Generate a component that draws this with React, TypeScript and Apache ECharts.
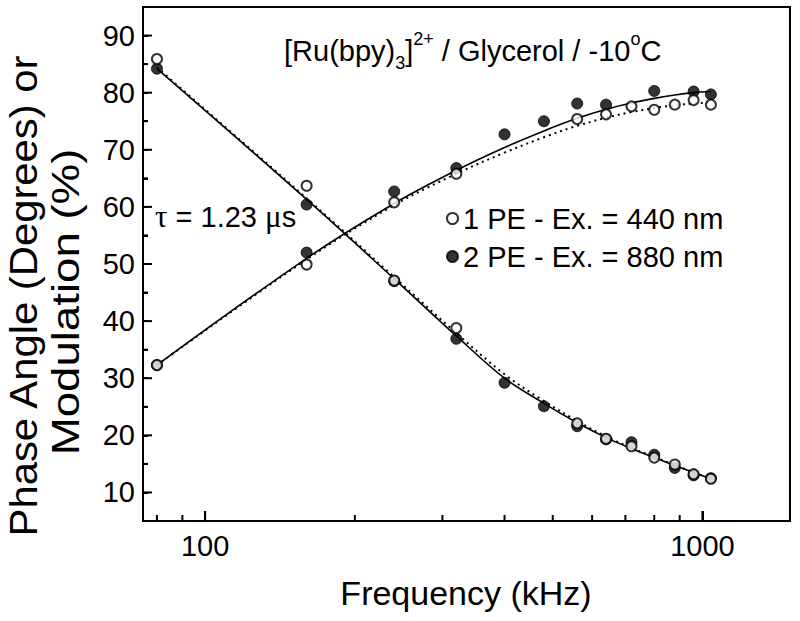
import React, { useEffect, useRef } from 'react';
import * as echarts from 'echarts';

// ---- data ----
const frequencies = [80, 160, 240, 320, 400, 480, 560, 640, 720, 800, 880, 960, 1040];

// measured points
const phase1PE = [32.3, 49.9, 60.8, 65.8, null, null, 75.4, 76.2, 77.6, 77.0, 77.9, 78.7, 77.9];
const phase2PE = [32.3, 52.0, 62.7, 66.8, 72.7, 75.0, 78.1, 77.9, null, 80.3, null, 80.2, 79.7];
const mod1PE = [85.9, 63.7, 47.1, 38.8, null, null, 22.1, 19.4, 18.1, 16.1, 14.9, 13.2, 12.4];
const mod2PE = [84.2, 60.4, 47.0, 36.9, 29.2, 25.1, 21.6, 19.3, 18.8, 16.6, 14.3, 13.0, 12.5];

// fitted curves
const phaseFit2PE = [32.3, 51.0, 60.6, 66.4, 70.4, 73.3, 75.5, 77.1, 78.2, 79.0, 79.6, 80.0, 80.2];
const phaseFit1PE = [32.3, 50.8, 60.3, 65.8, 69.5, 72.2, 74.2, 75.6, 76.6, 77.3, 77.8, 78.1, 78.3];
const modFit2PE = [84.2, 61.3, 47.4, 37.4, 30.0, 25.6, 22.2, 19.6, 17.7, 16.1, 14.7, 13.5, 12.4];
const modFit1PE = [84.4, 61.5, 47.7, 37.9, 30.7, 26.0, 22.5, 19.8, 17.8, 16.2, 14.8, 13.5, 12.4];

// axes
const X_MIN = 75;
const X_MAX = 1500;
const Y_MIN = 5;
const Y_MAX = 95;
const xTickLabels = [100, 1000];
const xTicksMajor = [100, 1000];
const xTicksMinor = [80, 90, 200, 300, 400, 500, 600, 700, 800, 900];
const yTickLabels = [10, 20, 30, 40, 50, 60, 70, 80, 90];
const yTicksMajor = [10, 20, 30, 40, 50, 60, 70, 80, 90];
const yTicksMinor = [15, 25, 35, 45, 55, 65, 75, 85];

const NAME_1PE = '1 PE - Ex. = 440 nm';
const NAME_2PE = '2 PE - Ex. = 880 nm';

const FONT = '"Liberation Sans", Arial, Helvetica, sans-serif';

// layout of the plotting rectangle
const GRID = { left: 143, right: 10, top: 7, bottom: 100 };
const W = 800;
const H = 621;

const zip = (xs: number[], ys: (number | null)[]) =>
  xs.map((x, i) => [x, ys[i]]).filter((p) => p[1] !== null && p[1] !== undefined);

const lineSeries = (ys: number[], dotted: boolean) => ({
  type: 'line',
  data: zip(frequencies, ys),
  smooth: 0.35,
  showSymbol: false,
  silent: true,
  z: 2,
  lineStyle: { color: '#000', width: dotted ? 2 : 1.6, type: dotted ? [2, 4] : 'solid' },
});

const labelStyle = { color: '#000', fontSize: 29, fontFamily: FONT };

export default function App() {
  const ref = useRef<HTMLDivElement>(null);

  useEffect(() => {
    if (!ref.current) return;
    const chart = echarts.init(ref.current, undefined, { renderer: 'svg' });

    const openStyle = { color: '#fff', borderColor: '#000', borderWidth: 2 };
    const filledStyle = { color: '#000', borderColor: '#000', borderWidth: 1 };

    const texts: any[] = [
      {
        type: 'text',
        id: 'title',
        left: 284,
        top: 30,
        silent: true,
        style: {
          text: '{a|[Ru(bpy)}{sub|3}{a|]}{sup|2+}{a| / Glycerol / -10}{sup|o}{a|C}',
          fill: '#000',
          rich: {
            a: { fontSize: 29, fontFamily: FONT, lineHeight: 42, fill: '#000' },
            sub: { fontSize: 18, fontFamily: FONT, lineHeight: 21, verticalAlign: 'bottom', fill: '#000' },
            sup: { fontSize: 18, fontFamily: FONT, lineHeight: 21, verticalAlign: 'top', fill: '#000' },
          },
        },
      },
      {
        type: 'text',
        id: 'tau',
        left: 155,
        top: 201,
        silent: true,
        style: {
          text: '{t|τ}{a| = 1.23 }{t|μ}{a|s}',
          fill: '#000',
          rich: {
            a: { fontSize: 29, fontFamily: FONT, lineHeight: 33, fill: '#000' },
            t: { fontSize: 31, fontFamily: '"Liberation Serif", "DejaVu Serif", serif', lineHeight: 33, fill: '#000' },
          },
        },
      },
      {
        type: 'text',
        id: 'xname',
        x: 466,
        y: 593,
        silent: true,
        style: {
          text: 'Frequency (kHz)',
          fontSize: 34,
          fontFamily: FONT,
          fill: '#000',
          align: 'center',
          verticalAlign: 'middle',
        },
      },
      {
        type: 'text',
        id: 'yname1',
        x: 24,
        y: 296,
        rotation: Math.PI / 2,
        scaleX: 1.1,
        silent: true,
        style: {
          text: 'Phase Angle (Degrees) or',
          fontSize: 38,
          fontFamily: FONT,
          fill: '#000',
          align: 'center',
          verticalAlign: 'middle',
        },
      },
      {
        type: 'text',
        id: 'yname2',
        x: 66,
        y: 302,
        rotation: Math.PI / 2,
        scaleX: 1.2,
        silent: true,
        style: {
          text: 'Modulation (%)',
          fontSize: 38,
          fontFamily: FONT,
          fill: '#000',
          align: 'center',
          verticalAlign: 'middle',
        },
      },
    ];

    const option: any = {
      animation: false,
      backgroundColor: '#fff',
      grid: {
        ...GRID,
        show: true,
        borderColor: '#000',
        borderWidth: 2,
        backgroundColor: 'rgba(0,0,0,0)',
        outerBoundsMode: 'none',
      },
      xAxis: {
        type: 'log',
        logBase: 10,
        min: X_MIN,
        max: X_MAX,
        axisLine: { show: true, lineStyle: { color: '#000', width: 2 } },
        axisTick: { show: true, inside: true, length: 10, lineStyle: { color: '#000', width: 2 } },
        splitLine: { show: false },
        axisLabel: {
          ...labelStyle,
          margin: 10,
          showMinLabel: false,
          showMaxLabel: false,
          formatter: (v: number) => {
            const r = Math.round(v);
            return xTickLabels.indexOf(r) >= 0 ? String(r) : '';
          },
        },
      },
      yAxis: {
        type: 'value',
        min: Y_MIN,
        max: Y_MAX,
        interval: 5,
        axisLine: { show: true, lineStyle: { color: '#000', width: 2 } },
        axisTick: { show: true, inside: true, length: 5, lineStyle: { color: '#000', width: 2 } },
        splitLine: { show: false },
        axisLabel: {
          ...labelStyle,
          margin: 8,
          formatter: (v: number) =>
            yTickLabels.indexOf(Math.round(v)) >= 0 ? String(Math.round(v)) : '',
        },
      },
      legend: {
        orient: 'vertical',
        left: 441,
        top: 199,
        itemGap: 9,
        itemWidth: 11,
        itemHeight: 11,
        icon: 'circle',
        selectedMode: false,
        textStyle: { fontSize: 29, lineHeight: 29, color: '#000', fontFamily: FONT },
        data: [NAME_1PE, NAME_2PE],
      },
      graphic: { elements: texts },
      series: [
        lineSeries(phaseFit1PE, true),
        lineSeries(modFit1PE, true),
        lineSeries(phaseFit2PE, false),
        lineSeries(modFit2PE, false),
        {
          name: NAME_2PE,
          type: 'scatter',
          symbol: 'circle',
          symbolSize: 11,
          z: 4,
          itemStyle: filledStyle,
          data: [...zip(frequencies, phase2PE), ...zip(frequencies, mod2PE)],
        },
        {
          name: NAME_1PE,
          type: 'scatter',
          symbol: 'circle',
          symbolSize: 10,
          z: 5,
          itemStyle: openStyle,
          data: [...zip(frequencies, phase1PE), ...zip(frequencies, mod1PE)],
        },
      ],
    };

    chart.setOption(option);

    // inward tick marks as filled bars, placed through the chart's coordinate conversion
    const toPx = (x: number, y: number): [number, number] => {
      let p: any = null;
      try {
        p = chart.convertToPixel({ gridIndex: 0 }, [x, y]);
      } catch (e) {
        p = null;
      }
      if (p && isFinite(p[0]) && isFinite(p[1])) return [p[0], p[1]];
      const gw = W - GRID.left - GRID.right;
      const gh = H - GRID.top - GRID.bottom;
      const fx = (Math.log10(x) - Math.log10(X_MIN)) / (Math.log10(X_MAX) - Math.log10(X_MIN));
      const fy = (y - Y_MIN) / (Y_MAX - Y_MIN);
      return [GRID.left + fx * gw, GRID.top + gh - fy * gh];
    };
    const bar = (id: string, x: number, y: number, w: number, h: number) => ({
      type: 'rect',
      id,
      silent: true,
      z: 100,
      shape: { x, y, width: w, height: h },
      style: { fill: '#000' },
    });
    const xTick = (v: number, len: number, k: string) => {
      const [x, y] = toPx(v, Y_MIN);
      return bar(k, x - 1, y - len, 2, len);
    };
    const yTick = (v: number, len: number, k: string) => {
      const [x, y] = toPx(X_MIN, v);
      return bar(k, x, y - 1, len, 2);
    };
    const ticks = [
      ...xTicksMajor.map((v, i) => xTick(v, 10, 'xM' + i)),
      ...xTicksMinor.map((v, i) => xTick(v, 6, 'xm' + i)),
      ...yTicksMajor.map((v, i) => yTick(v, 9, 'yM' + i)),
      ...yTicksMinor.map((v, i) => yTick(v, 5, 'ym' + i)),
    ];
    chart.setOption({ graphic: { elements: [...texts, ...ticks] } });

    return () => chart.dispose();
  }, []);

  return (
    <div
      ref={ref}
      style={{ position: 'fixed', left: 0, top: 0, width: W, height: H, background: '#fff' }}
    />
  );
}
